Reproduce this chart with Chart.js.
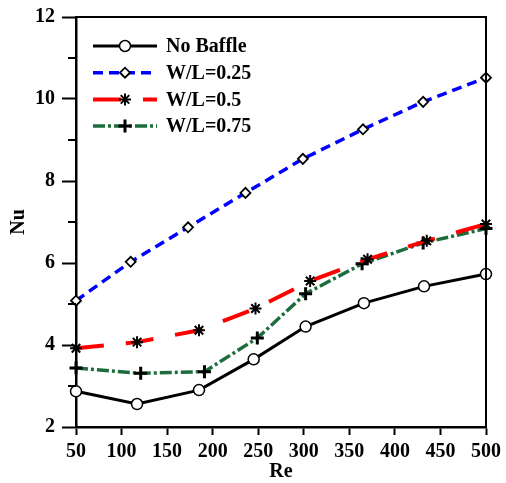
<!DOCTYPE html>
<html>
<head>
<meta charset="utf-8">
<script src="https://cdn.jsdelivr.net/npm/chart.js@4.4.1/dist/chart.umd.min.js"></script>
<style>
  html, body { margin: 0; padding: 0; background: #fff; }
  #wrap { width: 506px; height: 483px; }
</style>
</head>
<body>
<div id="wrap"><canvas id="chart" width="506" height="483"></canvas></div>
<script>
/* ===== Datos ===== */
const seriesNames = ['No Baffle', 'W/L=0.25', 'W/L=0.5', 'W/L=0.75'];
const reNoBaffle = [50, 117, 185, 245, 302, 366, 432, 500];
const nuNoBaffle = [2.87, 2.56, 2.90, 3.65, 4.45, 5.02, 5.43, 5.73];
const reWL025 = [50, 110, 173, 236, 299, 365, 431, 500];
const nuWL025 = [5.08, 6.03, 6.87, 7.71, 8.54, 9.26, 9.93, 10.52];
const reWL05 = [50, 117, 185, 247, 307, 370, 435, 500];
const nuWL05 = [3.92, 4.07, 4.36, 4.89, 5.56, 6.09, 6.54, 6.95];
const reWL075 = [50, 121, 191, 249, 302, 364, 431, 500];
const nuWL075 = [3.44, 3.31, 3.35, 4.17, 5.25, 5.98, 6.49, 6.84];
const xTicks = [50, 100, 150, 200, 250, 300, 350, 400, 450, 500];
const yTicks = [2, 4, 6, 8, 10, 12];

const FONT = "'Liberation Serif', 'Times New Roman', serif";
const pts = (xs, ys) => xs.map((x, i) => ({ x, y: ys[i] }));

/* ===== Plugins: marco, ticks menores y leyenda ===== */
const framePlugin = {
  id: 'frame',
  afterDraw(chart) {
    const { ctx, chartArea: a } = chart;
    const y = chart.scales.y;
    ctx.save();
    ctx.strokeStyle = '#000';
    ctx.lineWidth = 2;
    ctx.beginPath();
    ctx.moveTo(a.left, a.top); ctx.lineTo(a.right, a.top); ctx.lineTo(a.right, a.bottom);
    ctx.stroke();
    // ticks menores en valores impares
    for (let v = 3; v < 12; v += 2) {
      const py = y.getPixelForValue(v);
      ctx.beginPath(); ctx.moveTo(a.left - 8, py); ctx.lineTo(a.left, py); ctx.stroke();
    }
    ctx.restore();
  }
};

const legendPlugin = {
  id: 'lineLegend',
  afterDraw(chart) {
    const ctx = chart.ctx;
    chart.data.datasets.forEach((ds, i) => {
      const y = 46 + i * 26.7;
      ctx.save();
      ctx.strokeStyle = ds.borderColor;
      ctx.lineWidth = ds.borderWidth;
      ctx.setLineDash(ds.borderDash || []);
      ctx.beginPath(); ctx.moveTo(93, y); ctx.lineTo(157, y); ctx.stroke();
      ctx.setLineDash([]);
      ctx.fillStyle = ds.pointBackgroundColor;
      ctx.strokeStyle = ds.pointBorderColor;
      ctx.lineWidth = ds.pointBorderWidth;
      Chart.helpers.drawPoint(ctx, { pointStyle: ds.pointStyle, radius: ds.pointRadius, borderWidth: ds.pointBorderWidth, rotation: 0 }, 125, y);
      ctx.fillStyle = '#000';
      ctx.font = 'bold 20px ' + FONT;
      ctx.textBaseline = 'middle';
      ctx.fillText(ds.label, 166, y + 1);
      ctx.restore();
    });
  }
};

/* ===== Chart ===== */
const common = { fill: false, tension: 0, clip: false, pointBorderColor: '#000', pointHoverRadius: 6 };
new Chart(document.getElementById('chart'), {
  type: 'line',
  data: {
    datasets: [
      { ...common, label: seriesNames[0], data: pts(reNoBaffle, nuNoBaffle),
        borderColor: '#000', borderWidth: 3,
        pointStyle: 'circle', pointRadius: 5.5, pointBorderWidth: 1.5, pointBackgroundColor: '#fff' },
      { ...common, label: seriesNames[1], data: pts(reWL025, nuWL025),
        borderColor: '#0000ff', borderWidth: 3.5, borderDash: [10, 6],
        pointStyle: 'rectRot', pointRadius: 5, pointBorderWidth: 1.8, pointBackgroundColor: '#fff' },
      { ...common, label: seriesNames[2], data: pts(reWL05, nuWL05),
        borderColor: '#ff0000', borderWidth: 4, borderDash: [28, 22],
        pointStyle: 'star', pointRadius: 6, pointBorderWidth: 2, pointBackgroundColor: '#ff0000' },
      { ...common, label: seriesNames[3], data: pts(reWL075, nuWL075),
        borderColor: '#1b6e3b', borderWidth: 3.5, borderDash: [12, 3, 3, 3],
        pointStyle: 'cross', pointRadius: 6.5, pointBorderWidth: 3, pointBackgroundColor: '#000' }
    ]
  },
  options: {
    responsive: false,
    animation: false,
    layout: { padding: { top: 15, right: 19, left: 0, bottom: 0 } },
    plugins: { legend: { display: false }, tooltip: { enabled: false } },
    scales: {
      x: {
        type: 'linear', min: 50, max: 500,
        afterFit(s) { s.height = 56; },
        afterBuildTicks(s) { s.ticks = xTicks.map(v => ({ value: v })); },
        border: { color: '#000', width: 2.5 },
        grid: { drawOnChartArea: false, tickLength: 8, tickWidth: 2, tickColor: '#000' },
        ticks: { autoSkip: false, maxRotation: 0, padding: 5, color: '#000',
                 font: { family: FONT, size: 20, weight: 'bold' } },
        title: { display: true, text: 'Re', color: '#000', padding: { top: 0, bottom: 0 },
                 font: { family: FONT, size: 20, weight: 'bold', lineHeight: 1.1 } }
      },
      y: {
        type: 'linear', min: 2, max: 12,
        afterFit(s) { s.width = 76; },
        afterBuildTicks(s) { s.ticks = yTicks.map(v => ({ value: v })); },
        border: { color: '#000', width: 2.5 },
        grid: { drawOnChartArea: false, tickLength: 14, tickWidth: 2, tickColor: '#000' },
        ticks: { padding: 7, color: '#000', font: { family: FONT, size: 20, weight: 'bold', lineHeight: 1 } },
        title: { display: true, text: 'Nu', color: '#000', padding: { top: 7, bottom: 0 },
                 font: { family: FONT, size: 20, weight: 'bold' } }
      }
    }
  },
  plugins: [framePlugin, legendPlugin]
});
</script>
</body>
</html>
